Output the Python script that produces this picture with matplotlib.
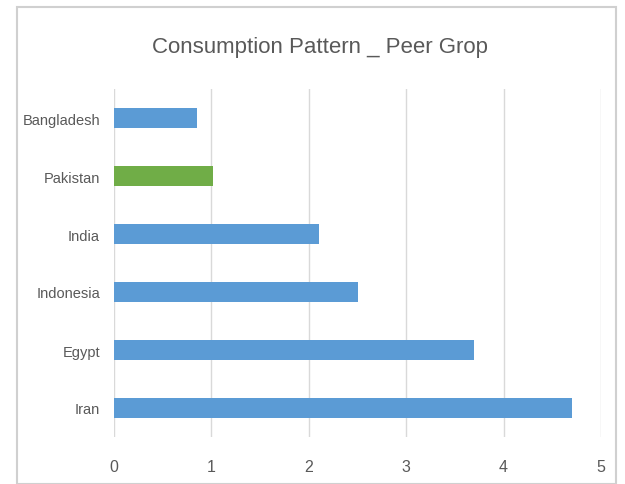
import matplotlib
matplotlib.use("Agg")
import matplotlib.pyplot as plt
from matplotlib.patches import Rectangle

countries = ["Iran", "Egypt", "Indonesia", "India", "Pakistan", "Bangladesh"]
values = [4.7, 3.7, 2.5, 2.1, 1.02, 0.85]
colors = ["#5B9BD5", "#5B9BD5", "#5B9BD5", "#5B9BD5", "#70AD47", "#5B9BD5"]
xticks = [0, 1, 2, 3, 4, 5]
title = "Consumption Pattern _ Peer Grop"

plt.rcParams['font.family'] = ['Liberation Sans', 'DejaVu Sans']
W, H = 625, 485
fig = plt.figure(figsize=(W/100, H/100), dpi=100)
fig.patch.set_facecolor("white")

# chart frame
fig.patches.append(Rectangle((17/W, 0), (616-17)/W, 1 - 8/H, transform=fig.transFigure,
                             fill=False, edgecolor="#D0D0D0", linewidth=1.5))

ax = fig.add_axes([114/W, 1 - 438/H, (601-114)/W, (438-90)/H])
y = list(range(len(countries)))
ax.barh(y, values, height=0.345, color=colors, edgecolor="none", zorder=3)
ax.set_yticks(y)
ax.set_yticklabels(countries)
ax.set_ylim(-0.5, len(countries) - 0.5)
ax.set_xlim(0, 5)
ax.set_xticks(xticks)
ax.grid(axis="x", color="#D9D9D9", linewidth=1, zorder=0)
for s in ax.spines.values():
    s.set_visible(False)
ax.tick_params(axis="y", length=0, colors="#595959", labelsize=10.5, pad=10)
ax.tick_params(axis="x", length=0, colors="#595959", labelsize=11.5, pad=16)
fig.text(320/W, 1 - 47/H, title, fontsize=16, color="#595959", ha="center", va="center")
fig.savefig("out.png", dpi=100)
